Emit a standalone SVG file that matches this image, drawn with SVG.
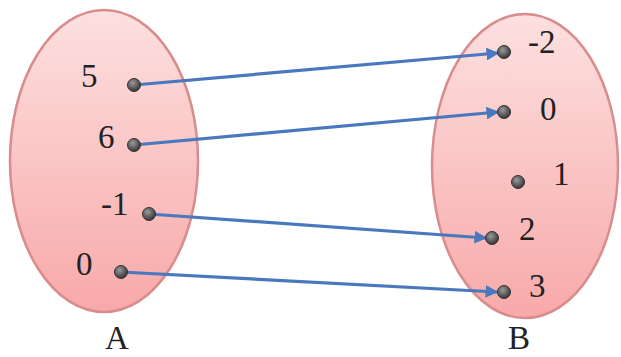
<svg xmlns="http://www.w3.org/2000/svg" width="621" height="357" viewBox="0 0 621 357">
<style>
.set{stroke:#d98c8c;stroke-width:2.5;fill:url(#pink)}
.lbl{font-family:"Liberation Serif",serif;font-size:33px;fill:#222}
.dot{fill:url(#dotg);stroke:#333;stroke-width:1}
.arr{stroke:#4a78bf;stroke-width:3.2;fill:none;marker-end:url(#ah)}
</style>
<defs>
<linearGradient id="pink" x1="0" y1="0" x2="0" y2="1">
<stop offset="0" stop-color="#fde0e0"/>
<stop offset="1" stop-color="#f8a9a9"/>
</linearGradient>
<radialGradient id="dotg" cx="0.4" cy="0.35" r="0.7">
<stop offset="0" stop-color="#9a9a9a"/>
<stop offset="1" stop-color="#2e2e2e"/>
</radialGradient>
<marker id="ah" viewBox="0 0 10 10" refX="9" refY="5" markerWidth="4" markerHeight="4" orient="auto" markerUnits="strokeWidth">
<path d="M0,0 L10,5 L0,10 z" fill="#4a78bf"/>
</marker>
</defs>
<g id="setA">
<ellipse class="set" cx="104" cy="161" rx="94" ry="151"/>
<text class="lbl" x="81" y="87">5</text>
<text class="lbl" x="98" y="148">6</text>
<text class="lbl" x="101" y="215">-1</text>
<text class="lbl" x="76" y="275">0</text>
<text class="lbl" x="105" y="349">A</text>
</g>
<g id="setB">
<ellipse class="set" cx="525" cy="166" rx="93" ry="152"/>
<text class="lbl" x="528" y="53">-2</text>
<text class="lbl" x="540" y="120">0</text>
<text class="lbl" x="553" y="185">1</text>
<text class="lbl" x="519" y="240">2</text>
<text class="lbl" x="529" y="297">3</text>
<text class="lbl" x="508" y="349">B</text>
</g>
<g id="connectors">
<line class="arr" x1="134" y1="85" x2="498" y2="53"/>
<line class="arr" x1="134" y1="145" x2="498" y2="112"/>
<line class="arr" x1="149" y1="214" x2="486" y2="238"/>
<line class="arr" x1="121" y1="272" x2="497" y2="292"/>
</g>
<g id="dots">
<circle class="dot" cx="134" cy="85" r="6.5"/>
<circle class="dot" cx="134" cy="145" r="6.5"/>
<circle class="dot" cx="149" cy="214" r="6.5"/>
<circle class="dot" cx="121" cy="272" r="6.5"/>
<circle class="dot" cx="504" cy="52" r="6.5"/>
<circle class="dot" cx="504" cy="112" r="6.5"/>
<circle class="dot" cx="518" cy="182" r="6.5"/>
<circle class="dot" cx="492" cy="238" r="6.5"/>
<circle class="dot" cx="504" cy="292" r="6.5"/>
</g>
</svg>
